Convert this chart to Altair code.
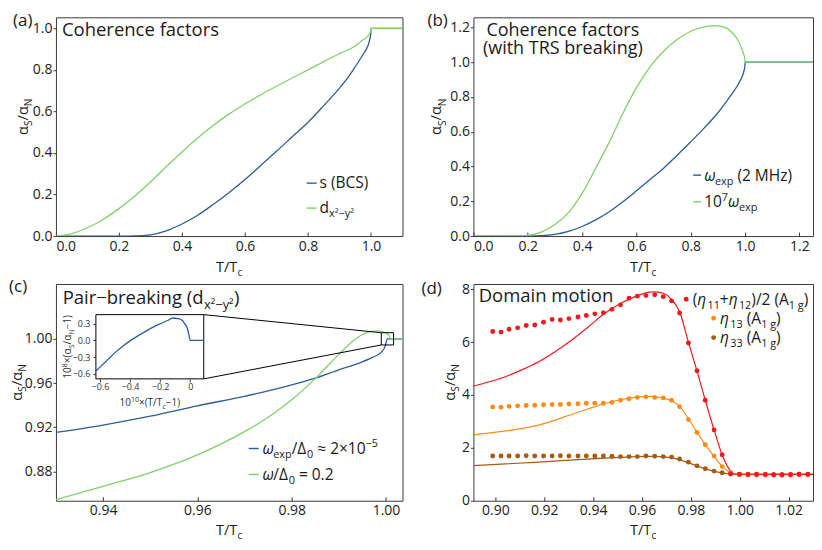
import altair as alt
import pandas as pd

FONT = "Open Sans"
BLUE = "#2d5d96"
GREEN = "#82d06c"
RED = "#f0191e"
ORANGE = "#fb8c16"
BROWN = "#a65b14"
FRAME = "#3a3a3a"
INK = "#1a1a1a"

# ---------------- data ----------------
# (a) coherence factors
a_T_s = [0.0, 0.1, 0.2, 0.25, 0.3, 0.35, 0.4, 0.45, 0.5, 0.55, 0.6, 0.65, 0.7, 0.75,
         0.8, 0.85, 0.9, 0.93, 0.95, 0.97, 0.98, 0.99, 0.995, 0.999, 1.0, 1.1]
a_s = [0.0, 0.0, 0.0, 0.001, 0.006, 0.025, 0.058, 0.10, 0.153, 0.21, 0.272, 0.34, 0.408,
       0.478, 0.548, 0.628, 0.712, 0.77, 0.815, 0.862, 0.886, 0.915, 0.94, 0.97, 1.0, 1.0]
a_T_d = [0.0, 0.05, 0.1, 0.15, 0.2, 0.25, 0.3, 0.35, 0.4, 0.45, 0.5, 0.55, 0.6, 0.65, 0.7,
         0.75, 0.8, 0.85, 0.9, 0.95, 0.975, 0.99, 0.997, 1.0, 1.1]
a_d = [0.0, 0.012, 0.04, 0.08, 0.132, 0.192, 0.26, 0.334, 0.405, 0.472, 0.533, 0.588, 0.636,
       0.68, 0.721, 0.761, 0.80, 0.84, 0.878, 0.915, 0.945, 0.962, 0.978, 1.0, 1.0]

# (b) with TRS breaking
b_T_w = [0.0, 0.1, 0.2, 0.25, 0.3, 0.35, 0.4, 0.45, 0.5, 0.55, 0.6, 0.65, 0.7, 0.75, 0.8,
         0.85, 0.9, 0.93, 0.95, 0.97, 0.98, 0.99, 0.995, 0.999, 1.0, 1.25]
b_w = [0.0, 0.0, 0.0, 0.002, 0.01, 0.027, 0.055, 0.093, 0.14, 0.197, 0.26, 0.325, 0.39,
       0.465, 0.542, 0.622, 0.709, 0.77, 0.815, 0.86, 0.888, 0.92, 0.945, 0.975, 1.0, 1.0]
b_T_w7 = [0.0, 0.1, 0.15, 0.2, 0.25, 0.3, 0.35, 0.4, 0.45, 0.5, 0.55, 0.6, 0.65, 0.7, 0.75,
          0.8, 0.85, 0.886, 0.92, 0.95, 0.97, 0.985, 0.994, 0.999, 1.0, 1.25]
b_w7 = [0.0, 0.0, 0.0005, 0.004, 0.022, 0.066, 0.135, 0.245, 0.39, 0.54, 0.705, 0.854, 0.973,
        1.063, 1.13, 1.178, 1.203, 1.21, 1.203, 1.174, 1.136, 1.088, 1.05, 1.02, 1.0, 1.0]

# (c) pair-breaking
c_T_b = [0.93, 0.94, 0.95, 0.96, 0.97, 0.975, 0.98, 0.985, 0.99, 0.9946, 0.997, 0.999,
         0.9998, 1.0003, 1.0035]
c_b = [0.9153, 0.922, 0.930, 0.9394, 0.948, 0.953, 0.9584, 0.9645, 0.972, 0.9785, 0.983,
       0.988, 0.993, 1.0, 1.0]
c_T_g = [0.93, 0.94, 0.95, 0.96, 0.97, 0.975, 0.98, 0.985, 0.99, 0.993, 0.995, 0.997,
         0.9985, 0.9995, 1.0005, 1.001, 1.0035]
c_g = [0.8544, 0.8665, 0.879, 0.895, 0.916, 0.929, 0.9448, 0.964, 0.986, 0.998, 1.004,
       1.0068, 1.0072, 1.006, 1.004, 1.0, 1.0]
inset_x = [-0.627, -0.6, -0.55, -0.5, -0.45, -0.4, -0.35, -0.3, -0.25, -0.2, -0.15, -0.117,
           -0.08, -0.05, -0.04, -0.025, -0.017, -0.007, 0.0, 0.09]
inset_y = [-0.55, -0.48, -0.35, -0.22, -0.11, -0.01, 0.075, 0.155, 0.232, 0.295, 0.355, 0.40,
           0.39, 0.35, 0.31, 0.25, 0.195, 0.077, 0.0, 0.0]

# (d) domain motion: data points
d_T_pts = [0.8989, 0.9023, 0.9056, 0.9091, 0.9126, 0.9161, 0.9197, 0.9232, 0.9266, 0.9301,
           0.9338, 0.9372, 0.9407, 0.9442, 0.9477, 0.9512, 0.9547, 0.9581, 0.9616, 0.9652,
           0.9687, 0.9721, 0.9754, 0.9790, 0.9825, 0.9859, 0.9895, 0.9928, 0.9963, 0.9999,
           1.0034, 1.0069, 1.0105, 1.0139, 1.0173, 1.0208, 1.0243, 1.0279]
d_red_pts = [6.40, 6.38, 6.49, 6.54, 6.63, 6.65, 6.75, 6.86, 6.84, 6.89, 6.95, 7.01, 7.07,
             7.11, 7.24, 7.41, 7.66, 7.74, 7.76, 7.79, 7.72, 7.56, 7.10, 5.97, 4.92, 3.80,
             2.68, 1.74, 1.02, 1.00, 0.99, 1.0, 0.99, 0.98, 0.98, 0.98, 1.0, 1.0]
d_org_pts = [3.55, 3.54, 3.57, 3.59, 3.60, 3.61, 3.63, 3.64, 3.64, 3.66, 3.67, 3.69, 3.69,
             3.69, 3.72, 3.80, 3.86, 3.91, 3.93, 3.91, 3.89, 3.80, 3.56, 3.07, 2.58, 2.12,
             1.69, 1.29, 1.06, 0.99, 0.98, 0.99, 0.97, 0.97, 0.96, 0.97, 0.98, 0.98]
d_brn_pts = [1.69, 1.69, 1.69, 1.69, 1.70, 1.69, 1.69, 1.69, 1.70, 1.69, 1.69, 1.69, 1.69,
             1.69, 1.68, 1.67, 1.67, 1.67, 1.69, 1.68, 1.67, 1.65, 1.58, 1.46, 1.32, 1.21,
             1.12, 1.06, 1.01, 0.99, 0.99, 0.98, 0.99, 0.98, 0.98, 0.99, 1.0, 0.99]
# (d) model curves
d_line_T_red = [0.891, 0.8975, 0.9043, 0.911, 0.9177, 0.9244, 0.9311, 0.9378, 0.9445, 0.9512,
                0.9579, 0.9632, 0.9655, 0.969, 0.9721, 0.9754, 0.979, 0.9825, 0.9859, 0.9895,
                0.9928, 0.9963, 0.998, 1.0, 1.03]
d_line_red = [4.33, 4.5, 4.70, 4.96, 5.26, 5.64, 6.07, 6.56, 7.07, 7.46, 7.75, 7.89, 7.90,
              7.84, 7.62, 7.15, 6.0, 4.92, 3.80, 2.68, 1.74, 1.12, 1.01, 1.0, 1.0]
d_line_T_org = [0.891, 0.9043, 0.9177, 0.9311, 0.9378, 0.9445, 0.9512, 0.9579, 0.9632, 0.9683,
                0.9721, 0.9754, 0.979, 0.9825, 0.9859, 0.9895, 0.9928, 0.9963, 0.998, 1.0, 1.03]
d_line_org = [2.49, 2.64, 2.86, 3.26, 3.47, 3.67, 3.82, 3.92, 3.95, 3.89, 3.78, 3.57, 3.1,
              2.6, 2.12, 1.68, 1.3, 1.06, 1.01, 1.0, 1.0]
d_line_T_brn = [0.891, 0.9177, 0.9445, 0.9632, 0.9656, 0.9723, 0.9777, 0.9844, 0.9911, 0.9964,
                1.0, 1.03]
d_line_brn = [1.33, 1.46, 1.61, 1.68, 1.68, 1.62, 1.48, 1.25, 1.08, 1.01, 1.0, 1.0]

# ---------------- helpers ----------------
ONE = pd.DataFrame({"k": [0]})

W_EM = {" ": .26, "(": .296, ")": .296, "/": .367, ".": .266, ",": .245, "+": .572,
        "=": .572, "−": .572, "×": .572, "≈": .572, "²": .36,
        "a": .556, "b": .613, "c": .48, "d": .613, "e": .561, "f": .336, "g": .546,
        "h": .613, "i": .258, "k": .53, "l": .258, "m": .929, "n": .613, "o": .602,
        "p": .613, "r": .408, "s": .477, "t": .353, "w": .783, "x": .525, "y": .5, "z": .47,
        "A": .633, "B": .647, "C": .631, "D": .729, "H": .738, "M": .907, "N": .76,
        "P": .602, "R": .618, "S": .549, "T": .556,
        "α": .62, "ω": .70, "η": .66, "Δ": .63}
for _d in "0123456789":
    W_EM[_d] = .572


def tw(s, size):
    return sum(W_EM.get(ch, 0.56) for ch in s) * size


def rich(pieces, x, y, size, color=INK, angle=0, align="left"):
    """Rich text built from pieces; leading/trailing blanks become advances."""
    specs = []
    for p in pieces:
        raw = p[0]
        kind = p[1] if len(p) > 1 else "n"
        style = p[2] if len(p) > 2 else "normal"
        s = size * 0.7 if kind in ("sub", "sup") else size
        shift = size * 0.28 if kind == "sub" else (-size * 0.42 if kind == "sup" else 0.0)
        core = raw.strip(" ")
        lead = (len(raw) - len(raw.lstrip(" "))) * W_EM[" "] * s
        trail = (len(raw) - len(raw.rstrip(" "))) * W_EM[" "] * s
        specs.append((core, s, shift, style, lead, tw(core, s), trail))
    total = sum(sp[4] + sp[5] + sp[6] for sp in specs)
    pos = -total / 2 if align == "center" else (-total if align == "right" else 0.0)
    out = []
    for core, s, shift, style, lead, w, trail in specs:
        pos += lead
        if core:
            if angle == 0:
                px, py = x + pos, y + shift
            else:
                px, py = x + shift, y - pos
            out.append(
                alt.Chart(ONE).mark_text(text=core, font=FONT, fontSize=s, fontStyle=style,
                                         align="left", baseline="alphabetic", angle=angle,
                                         color=color)
                .encode(x=alt.value(px), y=alt.value(py)))
        pos += w + trail
    return out


def plain(txt, x, y, size, color=INK, align="left"):
    return (alt.Chart(ONE).mark_text(text=txt, font=FONT, fontSize=size, align=align,
                                     baseline="alphabetic", color=color)
            .encode(x=alt.value(x), y=alt.value(y)))


def xenc(field, dom, vals, fmt):
    return alt.X(f"{field}:Q", scale=alt.Scale(domain=dom, nice=False, zero=False),
                 axis=alt.Axis(values=vals, format=fmt, title=None, offset=-4, tickSize=4,
                               labelPadding=3, domain=False, grid=False))


def yenc(field, dom, vals, fmt):
    return alt.Y(f"{field}:Q", scale=alt.Scale(domain=dom, nice=False, zero=False),
                 axis=alt.Axis(values=vals, format=fmt, title=None, tickSize=3,
                               labelPadding=1, domain=False, grid=False))


def line(T, v, color, xe, ye, width=1.3):
    df = pd.DataFrame({"T": T, "v": v})
    return alt.Chart(df).mark_line(color=color, strokeWidth=width, interpolate="monotone",
                                   clip=True).encode(x=xe, y=ye)


def key_line(x1, x2, y, color):
    return alt.Chart(ONE).mark_rule(color=color, strokeWidth=1.4).encode(
        x=alt.value(x1), x2=alt.value(x2), y=alt.value(y))


def key_dot(x, y, color):
    return alt.Chart(ONE).mark_circle(color=color, size=24, opacity=1).encode(
        x=alt.value(x), y=alt.value(y))


def axis_titles(W, H, ytitle_x, xtitle_dy=36):
    xt = rich([("T/T",), ("c", "sub")], W / 2, H + xtitle_dy, 14.5, align="center")
    yt = rich([("α",), ("S", "sub"), ("/α",), ("N", "sub")], ytitle_x, H / 2 - 10, 14.5,
              angle=270, align="center")
    return xt + yt


LBL = 17
TT = 18.5
LEG = 15.5

# ---------------- panel (a) ----------------
WA, HA = 347, 219
xa = xenc("T", [0, 1.1], [0, 0.2, 0.4, 0.6, 0.8, 1.0], ".1f")
ya = yenc("v", [0, 1.053], [0, 0.2, 0.4, 0.6, 0.8, 1.0], ".1f")
pa = alt.layer(
    line(a_T_s, a_s, BLUE, xa, ya),
    line(a_T_d, a_d, GREEN, xa, ya),
    plain("Coherence factors", 6, 19, TT),
    key_line(251, 261, 166, BLUE),
    plain("s (BCS)", 264, 171, LEG),
    key_line(251, 261, 191, GREEN),
    *rich([("d",), ("x²−y²", "sub")], 264, 196, LEG),
    plain("(a)", -43, 8.5, LBL),
    *axis_titles(WA, HA, -28),
).properties(width=WA, height=HA)

# ---------------- panel (b) ----------------
WB, HB = 340, 219
xb = xenc("T", [0, 1.25], [0, 0.2, 0.4, 0.6, 0.8, 1.0, 1.2], ".1f")
yb = yenc("v", [0, 1.258], [0, 0.2, 0.4, 0.6, 0.8, 1.0, 1.2], ".1f")
pb = alt.layer(
    line(b_T_w, b_w, BLUE, xb, yb),
    line(b_T_w7, b_w7, GREEN, xb, yb),
    plain("Coherence factors", 89.5, 18.6, 18, align="center"),
    plain("(with TRS breaking)", 89.5, 36.8, 18, align="center"),
    key_line(220, 228, 158, BLUE),
    *rich([("ω", "n", "italic"), ("exp", "sub"), (" (2 MHz)",)], 231, 163.5, LEG),
    key_line(220, 228, 184.7, GREEN),
    *rich([("10",), ("7", "sup"), ("ω", "n", "italic"), ("exp", "sub")], 231, 190, LEG),
    plain("(b)", -46, 8.5, LBL),
    *axis_titles(WB, HB, -32),
).properties(width=WB, height=HB)

# ---------------- panel (c) ----------------
WC, HC = 347, 217
CX = [0.93, 1.0035]
CY = [0.8535, 1.0497]
xc = xenc("T", CX, [0.94, 0.96, 0.98, 1.00], ".2f")
yc = yenc("v", CY, [0.88, 0.92, 0.96, 1.00], ".2f")

# inset placement (pixels inside panel c) and its own domains
IN_L, IN_R, IN_T, IN_B = 40, 148, 30.7, 95
IX = [-0.627, 0.09]
IY = [-0.69, 0.46]
# zoom window in main coordinates
ZX = [0.9990, 1.0016]
ZY = [0.9945, 1.0056]


def to_main_x(px):
    return CX[0] + px / WC * (CX[1] - CX[0])


def to_main_y(py):
    return CY[1] - py / HC * (CY[1] - CY[0])


zoom_df = pd.DataFrame({"T": [ZX[0]], "T2": [ZX[1]], "v": [ZY[0]], "v2": [ZY[1]]})
conn_df = pd.DataFrame({
    "T": [to_main_x(IN_R), to_main_x(IN_R)],
    "v": [to_main_y(IN_T), to_main_y(IN_B)],
    "T2": [ZX[0], ZX[0]],
    "v2": [ZY[1], ZY[0]],
})
zoom_rect = alt.Chart(zoom_df).mark_rect(fillOpacity=0, stroke="black", strokeWidth=1).encode(
    x=xc, x2="T2:Q", y=yc, y2="v2:Q")
connectors = alt.Chart(conn_df).mark_rule(color="black", strokeWidth=1).encode(
    x=xc, x2="T2:Q", y=yc, y2="v2:Q")

main_c = alt.layer(
    line(c_T_b, c_b, BLUE, xc, yc),
    line(c_T_g, c_g, GREEN, xc, yc),
    connectors,
    zoom_rect,
    *rich([("Pair−breaking (d",), ("x²−y²", "sub"), (")",)], 6.7, 20, TT),
    key_line(193, 203, 164.7, BLUE),
    *rich([("ω", "n", "italic"), ("exp", "sub"), ("/Δ",), ("0", "sub"), (" ≈ 2×10",), ("−5", "sup")],
          206.7, 170, LEG),
    key_line(193, 203, 190.7, GREEN),
    *rich([("ω", "n", "italic"), ("/Δ",), ("0", "sub"), (" = 0.2",)], 206.7, 196, LEG),
    plain("(c)", -47, 8.5, LBL),
    *axis_titles(WC, HC, -34, 34),
    *rich([("10",), ("8", "sup"), ("×(α",), ("S", "sub"), ("/α",), ("N", "sub"), ("−1)",)],
          15, (IN_T + IN_B) / 2, 10, color="#333", angle=270, align="center"),
    *rich([("10",), ("10", "sup"), ("×(T/T",), ("c", "sub"), ("−1)",)],
          (IN_L + IN_R) / 2, 122, 10, color="#333", align="center"),
)

ix = alt.X("x:Q", scale=alt.Scale(domain=IX, range=[IN_L, IN_R], nice=False, zero=False),
           axis=alt.Axis(orient="bottom", offset=-(HC - IN_B), values=[-0.6, -0.4, -0.2, 0.0],
                         labelExpr="datum.value == 0 ? '0' : format(datum.value, '.1f')",
                         tickSize=3, labelPadding=1, labelFontSize=9, labelColor="#333",
                         domain=False, grid=False, title=None))
iy = alt.Y("y:Q", scale=alt.Scale(domain=IY, range=[IN_B, IN_T], nice=False, zero=False),
           axis=alt.Axis(orient="left", offset=-IN_L, values=[-0.6, -0.3, 0.0, 0.3],
                         format=".1f", tickSize=3, labelPadding=3, labelFontSize=9,
                         labelColor="#333", domain=False, grid=False, title=None))
frame_df = pd.DataFrame({"x": [IX[0]], "x2": [IX[1]], "y": [IY[0]], "y2": [IY[1]]})
inset_frame = alt.Chart(frame_df).mark_rect(fill="white", stroke="black", strokeWidth=1).encode(
    x=ix, x2="x2:Q", y=iy, y2="y2:Q")
inset_line = alt.Chart(pd.DataFrame({"x": inset_x, "y": inset_y})).mark_line(
    color=BLUE, strokeWidth=1.3, interpolate="monotone").encode(x=ix, y=iy)
inset_c = alt.layer(inset_frame, inset_line)

pc = alt.layer(main_c, inset_c).resolve_scale(x="independent", y="independent").properties(
    width=WC, height=HC)

# ---------------- panel (d) ----------------
WD, HD = 340, 217
xd = xenc("T", [0.891, 1.03], [0.90, 0.92, 0.94, 0.96, 0.98, 1.00, 1.02], ".2f")
yd = yenc("v", [0, 8.2], [0, 2, 4, 6, 8], "d")


def dots(T, v, color):
    return alt.Chart(pd.DataFrame({"T": T, "v": v})).mark_circle(
        color=color, size=24, opacity=1).encode(x=xd, y=yd)


pd_ = alt.layer(
    line(d_line_T_brn, d_line_brn, BROWN, xd, yd, 1.2),
    line(d_line_T_org, d_line_org, ORANGE, xd, yd, 1.2),
    line(d_line_T_red, d_line_red, RED, xd, yd, 1.2),
    dots(d_T_pts, d_brn_pts, BROWN),
    dots(d_T_pts, d_org_pts, ORANGE),
    dots(d_T_pts, d_red_pts, RED),
    plain("Domain motion", 5.3, 18.5, TT),
    key_dot(213, 15.3, RED),
    *rich([("(",), ("η", "n", "italic"), ("11", "sub"), ("+",), ("η", "n", "italic"), ("12", "sub"),
           (")/2 (A",), ("1 g", "sub"), (")",)], 219.5, 20.8, LEG),
    key_dot(240.5, 34.3, ORANGE),
    *rich([("η", "n", "italic"), ("13", "sub"), (" (A",), ("1 g", "sub"), (")",)], 247, 39.8, LEG),
    key_dot(240.5, 53.7, BROWN),
    *rich([("η", "n", "italic"), ("33", "sub"), (" (A",), ("1 g", "sub"), (")",)], 247, 59.2, LEG),
    plain("(d)", -52, 10.5, LBL),
    *axis_titles(WD, HD, -18, 34),
).properties(width=WD, height=HD)

chart = alt.concat(
    pa, pb, pc, pd_, columns=2, bounds="flush", spacing={"row": 48, "column": 71}
).properties(
    padding={"left": 0, "top": 3, "right": 0, "bottom": 0},
    background="white",
).configure_view(stroke=FRAME, strokeWidth=1).configure_axis(
    labelFont=FONT, labelFontSize=14, labelColor="#222", tickColor=FRAME, grid=False
)

chart.save("out.html", embed_options={"renderer": "svg", "actions": False})
